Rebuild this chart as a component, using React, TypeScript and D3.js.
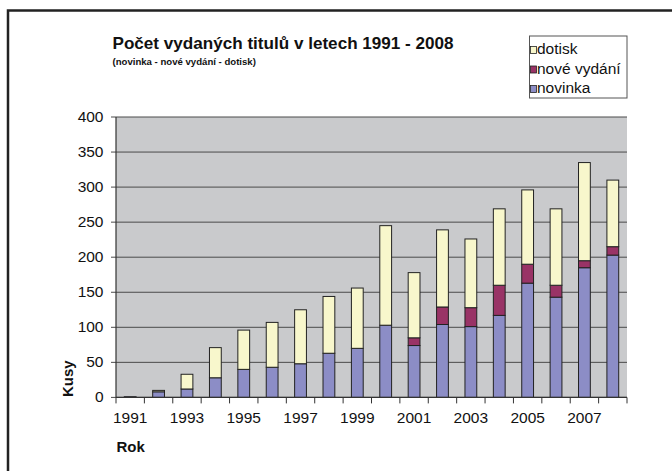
import React from "react";
import * as d3 from "d3";

const years = ["1991","1992","1993","1994","1995","1996","1997","1998","1999","2000","2001","2002","2003","2004","2005","2006","2007","2008"];
const novinka = [1, 8, 12, 28, 40, 43, 48, 63, 70, 103, 74, 104, 101, 117, 163, 143, 185, 203];
const noveVydani = [0, 0, 0, 0, 0, 0, 0, 0, 0, 0, 11, 25, 27, 43, 27, 17, 10, 12];
const dotisk = [0, 2, 21, 43, 56, 64, 77, 81, 86, 142, 93, 110, 98, 109, 106, 109, 140, 95];
const yTicks = [0, 50, 100, 150, 200, 250, 300, 350, 400];
const seriesNames = ["novinka", "nové vydání", "dotisk"];
const seriesColors = ["#8C8DC6", "#993366", "#F8F7CC"];

const W = 672, H = 471;
const left = 116, right = 627, top = 117, bottom = 397.4;
const font = "'Liberation Sans', Arial, sans-serif";

export default function App() {
  const x = d3.scaleBand<string>().domain(years).range([left, right]).paddingInner(0).paddingOuter(0);
  const y = d3.scaleLinear().domain([0, 400]).range([bottom, top]);
  const data = years.map((yr, i) => ({ year: yr, novinka: novinka[i], nove: noveVydani[i], dotisk: dotisk[i] }));
  const stack = d3.stack<any>().keys(["novinka", "nove", "dotisk"])(data);
  const bw = 11.8;
  const legendItems = [
    { name: seriesNames[2], color: seriesColors[2] },
    { name: seriesNames[1], color: seriesColors[1] },
    { name: seriesNames[0], color: seriesColors[0] },
  ];
  return (
    <svg width={W} height={H} style={{ position: "absolute", left: 0, top: 0, background: "#fff" }}>
      <rect x={8} y={10.5} width={720} height={520} fill="none" stroke="#222" strokeWidth={2.5} />
      <text x={112.5} y={49} fontFamily={font} fontWeight="bold" fontSize={17.1} fill="#111">Počet vydaných titulů v letech 1991 - 2008</text>
      <text x={112.5} y={65} fontFamily={font} fontWeight="bold" fontSize={9.6} fill="#111">(novinka - nové vydání - dotisk)</text>
      <rect x={529.5} y={36} width={97.5} height={62} fill="#fff" stroke="#555" strokeWidth={1} />
      {legendItems.map((it, i) => (
        <g key={it.name}>
          <rect x={530.5} y={46.5 + i * 19.5} width={6} height={7} fill={it.color} stroke="#222" strokeWidth={0.8} />
          <text x={537} y={54 + i * 19.5} fontFamily={font} fontSize={15.5} fill="#111">{it.name}</text>
        </g>
      ))}
      <rect x={left} y={top} width={right - left} height={bottom - top} fill="#C9CACC" />
      {yTicks.map(t => (
        <g key={t}>
          <line x1={left - 5} x2={right} y1={y(t)} y2={y(t)} stroke="#4a4a4a" strokeWidth={1} />
          <text x={103.5} y={y(t) + 5} textAnchor="end" fontFamily={font} fontSize={15.5} fill="#111">{t}</text>
        </g>
      ))}
      {stack.map((s, si) => (
        <g key={si}>
          {s.map((d, i) => {
            const h = y(d[0]) - y(d[1]);
            if (h <= 0) return null;
            const cx = (x(years[i]) as number) + x.bandwidth() / 2;
            return <rect key={i} x={cx - bw / 2} y={y(d[1])} width={bw} height={h} fill={seriesColors[si]} stroke="#222" strokeWidth={1} />;
          })}
        </g>
      ))}
      <line x1={left} x2={left} y1={top} y2={bottom} stroke="#333" strokeWidth={1.2} />
      <line x1={left} x2={right} y1={bottom} y2={bottom} stroke="#333" strokeWidth={1.2} />
      {years.map((yr) => (
        <line key={yr} x1={x(yr) as number} x2={x(yr) as number} y1={bottom} y2={bottom + 6} stroke="#333" strokeWidth={1} />
      ))}
      <line x1={right} x2={right} y1={bottom} y2={bottom + 6} stroke="#333" strokeWidth={1} />
      {years.map((yr, i) => i % 2 === 0 ? (
        <text key={yr} x={(x(yr) as number) + x.bandwidth() / 2} y={423} textAnchor="middle" fontFamily={font} fontSize={15.5} fill="#111">{yr}</text>
      ) : null)}
      <text x={116.5} y={452} fontFamily={font} fontWeight="bold" fontSize={15} fill="#111">Rok</text>
      <text transform={`translate(73,397) rotate(-90)`} fontFamily={font} fontWeight="bold" fontSize={15} fill="#111">Kusy</text>
    </svg>
  );
}
